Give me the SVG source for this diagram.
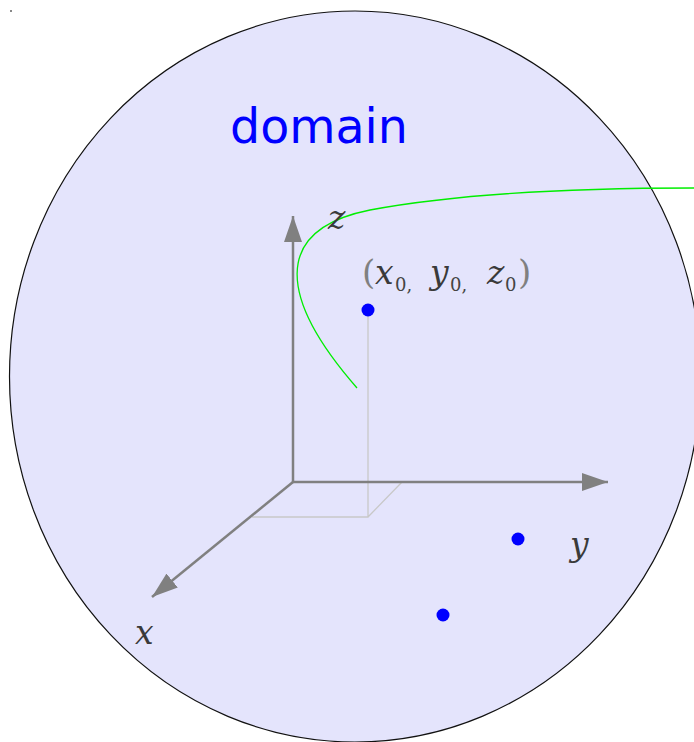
<svg xmlns="http://www.w3.org/2000/svg" width="694" height="742" viewBox="0 0 694 742">
<style>
.axis{stroke:#808080;stroke-width:2.5;fill:none}
.guide{stroke:#c8c8c8;stroke-width:1.3;fill:none}
.pt{fill:#0000ff}
.math{font-family:"DejaVu Serif","Liberation Serif",serif;font-style:italic;fill:#3a3a3a;font-size:33px}
.sub{font-family:"DejaVu Serif","Liberation Serif",serif;fill:#444444;font-size:18px}
.paren{font-family:"DejaVu Serif","Liberation Serif",serif;fill:#808080;font-size:34px}
</style>
<defs>
<marker id="arr" viewBox="0 0 26 18" refX="26" refY="9" markerWidth="26" markerHeight="18" markerUnits="userSpaceOnUse" orient="auto">
<path d="M0,0 L26,9 L0,18 Z" fill="#808080"/>
</marker>
</defs>
<rect x="10" y="10" width="2" height="2" fill="#888888"/>
<g id="domain">
<ellipse cx="355" cy="376.5" rx="345.5" ry="365.5" fill="#e4e4fc" stroke="#111111" stroke-width="1.2"/>
<text x="230" y="143" font-family="DejaVu Sans, Verdana, sans-serif" font-size="47.5" fill="#0000ff">domain</text>
</g>
<g id="guides">
<path class="guide" d="M368,310 L368,517 L252,517 M368,517 L402,482"/>
</g>
<g id="connectors">
<path id="z-axis" class="axis" d="M293,483 L293,216" marker-end="url(#arr)"/>
<path id="y-axis" class="axis" d="M292,482 L608,482" marker-end="url(#arr)"/>
<path id="x-axis" class="axis" d="M293,482 L152,597" marker-end="url(#arr)"/>
</g>
<g id="curve">
<path d="M357,388 C280,300 270,230 370,210 C450,195 560,188 694,188" fill="none" stroke="#00ee00" stroke-width="1.3"/>
</g>
<g id="labels">
<text class="math" x="328" y="229">z</text>
<text class="math" x="570" y="556">y</text>
<text class="math" x="135" y="644">x</text>
</g>
<g id="point0">
<circle class="pt" cx="368" cy="310" r="6.5"/>
<text class="paren" x="362" y="284">(</text>
<text class="math" x="375" y="284">x</text>
<text class="sub" x="395" y="291">0,</text>
<text class="math" x="430" y="284">y</text>
<text class="sub" x="450" y="291">0,</text>
<text class="math" x="487" y="284">z</text>
<text class="sub" x="505" y="291">0</text>
<text class="paren" x="518" y="284">)</text>
</g>
<g id="point1"><circle class="pt" cx="518" cy="539" r="6.5"/></g>
<g id="point2"><circle class="pt" cx="443" cy="615" r="6.5"/></g>
</svg>
